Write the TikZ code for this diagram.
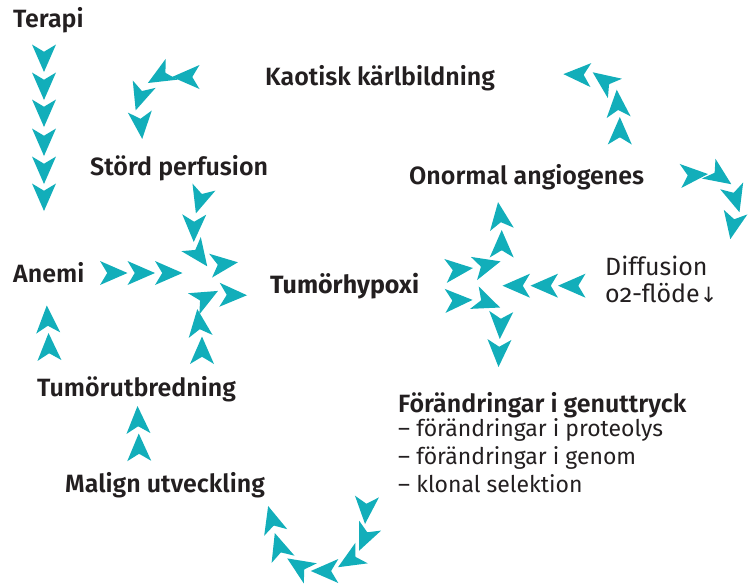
\documentclass[tikz,border=0pt]{standalone}
\usepackage{fontspec}
\setmainfont{Fira Sans}
\newfontfamily\semib{Fira Sans SemiBold}
\newfontfamily\arrowfont{DejaVu Sans}
\definecolor{chevc}{RGB}{18,174,186}
\definecolor{txt}{RGB}{35,31,32}
\tikzset{
  chevfill/.style={fill=chevc, draw=none},
  chev/.pic={\fill[chevfill] (14,0) -- (-13.5,12) -- (-6.5,0.4) -- (-6.5,-0.4) -- (-13.5,-12) -- cycle;},
  lbl/.style={anchor=base west, inner sep=0pt, text=txt, font=\fontsize{25}{30}\selectfont\semib},
  hyp/.style={lbl, font=\fontsize{25}{30}\selectfont\bfseries},
  plain/.style={anchor=base west, inner sep=0pt, text=txt, align=left, font=\fontsize{23}{28.3}\selectfont},
  plainbig/.style={plain, font=\fontsize{25}{30}\selectfont},
}
\begin{document}
\begin{tikzpicture}[x=1pt,y=-1pt]
\path[use as bounding box] (0,0) rectangle (752,584);
% labels
\node[lbl] (terapi) at (13,27) {Terapi};
\node[lbl] (kaot) at (265,85) {Kaotisk kärlbildning};
\node[lbl] (stord) at (90,175) {Störd perfusion};
\node[lbl] (onorm) at (409,184) {Onormal angiogenes};
\node[lbl] (anemi) at (13,282) {Anemi};
\node[hyp] (hyp) at (270,293) {Tumörhypoxi};
\node[lbl] (utbr) at (37,396) {Tumörutbredning};
\node[lbl] (malign) at (65,492) {Malign utveckling};
\node[plainbig] (diff) at (605,275) {Diffusion};
\node[plainbig] (flode) at (605,302) {o{\addfontfeature{Numbers=OldStyle}2}-flöde{\arrowfont\fontsize{21}{24}\selectfont ↓}};
\node[lbl] (forand) at (398,412) {Förändringar i genuttryck};
\node[plain, anchor=north west] (list) at (398,418) {– förändringar i proteolys\\– förändringar i genom\\– klonal selektion};
% Terapi -> Anemi
\foreach \yy in {58,86,113,142,170,197} \pic[rotate=-90] at (44,\yy) {chev};
% Kaotisk -> Stord
\pic[rotate=180] at (186,77) {chev};
\pic[rotate=-150] at (160,76) {chev};
\pic[rotate=-108] at (140,97) {chev};
\pic[rotate=-85] at (141,125) {chev};
% Stord -> hypoxi
\pic[rotate=-107] at (200,200) {chev};
\pic[rotate=-91] at (194,228) {chev};
\pic[rotate=-54] at (199,255) {chev};
\pic[rotate=7] at (224,264) {chev};
% Anemi -> hypoxi
\pic at (113.5,273) {chev};
\pic at (141,273) {chev};
\pic at (168.5,273) {chev};
% Tumorutbredning -> hypoxi
\pic[rotate=90] at (202,350.5) {chev};
\pic[rotate=97] at (199,323) {chev};
\pic[rotate=28] at (205.6,297.5) {chev};
\pic[rotate=-1] at (233,295) {chev};
% Tumorutbredning -> Anemi
\pic[rotate=92] at (49,347) {chev};
\pic[rotate=93] at (47.5,319.5) {chev};
% Malign -> Tumorutbredning
\pic[rotate=91] at (139,447.5) {chev};
\pic[rotate=92] at (138,420) {chev};
% right cluster
\pic[rotate=98] at (500,216) {chev};
\pic[rotate=90] at (501.7,244) {chev};
\pic[rotate=6] at (459,269.5) {chev};
\pic[rotate=15] at (487,265) {chev};
\pic[rotate=2] at (458.6,300.4) {chev};
\pic[rotate=-21] at (487,302.5) {chev};
\pic[rotate=-93] at (500.5,325) {chev};
\pic[rotate=-92] at (499,353) {chev};
% Diffusion -> hypoxi
\pic[rotate=180] at (516.5,285.7) {chev};
\pic[rotate=180] at (544.5,285.7) {chev};
\pic[rotate=180] at (572,285.7) {chev};
% Onormal -> Kaotisk
\pic[rotate=90] at (619.8,131) {chev};
\pic[rotate=94] at (617.7,103.7) {chev};
\pic[rotate=144] at (604,80.5) {chev};
\pic[rotate=178] at (577.4,74.6) {chev};
% Onormal -> Diffusion
\pic[rotate=4] at (694,175) {chev};
\pic[rotate=-34.5] at (719.8,176.3) {chev};
\pic[rotate=-73.5] at (735.5,198.8) {chev};
\pic[rotate=-101] at (733,225.4) {chev};
% bottom curve
\pic[rotate=-94] at (366,510) {chev};
\pic[rotate=-114] at (364.7,538) {chev};
\pic[rotate=-149] at (350,560) {chev};
\pic[rotate=180] at (324.8,571) {chev};
\pic[rotate=147] at (299,566) {chev};
\pic[rotate=107.5] at (279,546.4) {chev};
\pic[rotate=106] at (272,519.5) {chev};
\end{tikzpicture}
\end{document}
